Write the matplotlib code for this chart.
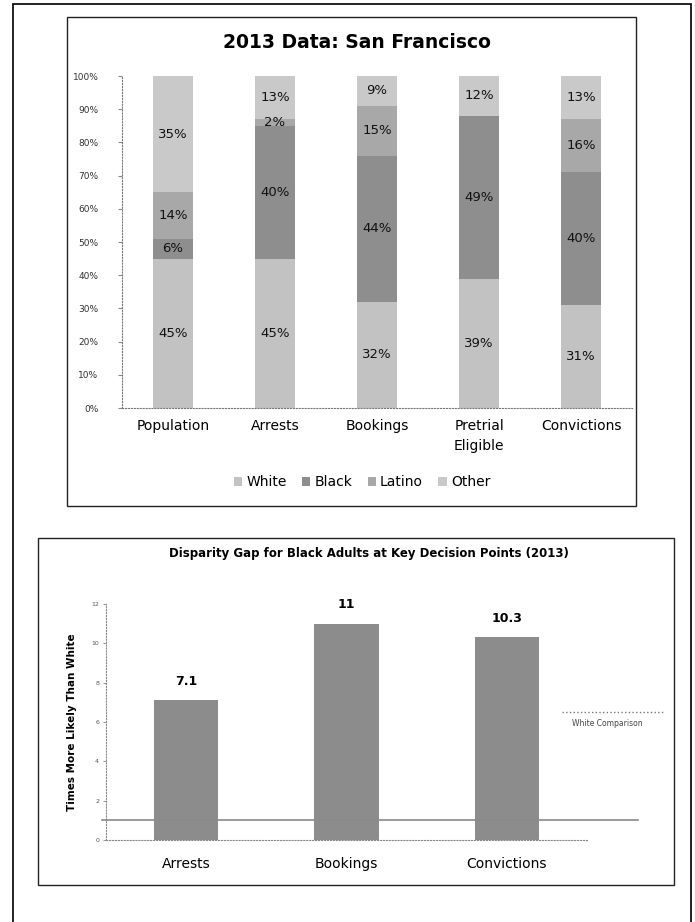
import numpy as np
import matplotlib
matplotlib.use("Agg")
import matplotlib.pyplot as plt
from matplotlib.patches import Rectangle
from matplotlib.lines import Line2D

# --- data ---
stages = ["Population", "Arrests", "Bookings", "Pretrial\nEligible", "Convictions"]
groups = ["White", "Black", "Latino", "Other"]
white = [45, 45, 32, 39, 31]
black = [6, 40, 44, 49, 40]
latino = [14, 2, 15, 0, 16]
other = [35, 13, 9, 12, 13]

gap_points = ["Arrests", "Bookings", "Convictions"]
gap_values = [7.1, 11, 10.3]
white_comparison = 1

W, H = 695, 922
group_colors = ["#c2c2c2", "#8e8e8e", "#a8a8a8", "#c9c9c9"]


def box(x0, y0, x1, y1):
    # pixel box (top-left origin) -> figure fraction rect
    return [x0 / W, 1 - y1 / H, (x1 - x0) / W, (y1 - y0) / H]


def frame(x0, y0, x1, y1, lw=1.0, color="#222222"):
    r = box(x0, y0, x1, y1)
    fig.add_artist(Rectangle((r[0], r[1]), r[2], r[3], transform=fig.transFigure,
                             fill=False, ec=color, lw=lw))


fig = plt.figure(figsize=(W / 100, H / 100), dpi=100)

# page and chart frames
frame(13, 4, 691, 940, lw=1.3, color="#111111")
frame(67, 17, 636, 506, lw=1.0)
frame(38, 538, 674, 885, lw=1.0)

# ---------------- top chart: stacked percentages ----------------
ax1 = fig.add_axes(box(122, 76, 632, 408))
x = np.arange(len(stages))
series = [white, black, latino, other]
bottom = np.zeros(len(stages))
handles = []
for name, vals, col in zip(groups, series, group_colors):
    vals = np.array(vals, dtype=float)
    b = ax1.bar(x, vals, 0.39, bottom=bottom, color=col, label=name)
    handles.append(b)
    for xi, v, bt in zip(x, vals, bottom):
        if v > 0:
            ax1.text(xi, bt + v / 2, f"{int(v)}%", ha="center", va="center",
                     fontsize=9.5, color="#111111")
    bottom += vals

ax1.set_xlim(-0.5, len(stages) - 0.5)
ax1.set_ylim(0, 100)
ax1.set_yticks(np.arange(0, 101, 10))
ax1.set_yticklabels([f"{v}%" for v in range(0, 101, 10)])
ax1.set_xticks(x)
ax1.set_xticklabels(stages, fontsize=10, linespacing=1.5, va="top")
ax1.tick_params(axis="y", labelsize=6.5, labelcolor="#333333", length=3,
                color="#888888", pad=14)
ax1.tick_params(axis="x", length=0, pad=8)
for s in ["top", "right"]:
    ax1.spines[s].set_visible(False)
for s in ["left", "bottom"]:
    ax1.spines[s].set_linestyle(":")
    ax1.spines[s].set_color("#777777")
    ax1.spines[s].set_linewidth(0.8)

fig.text(357 / W, 1 - 43 / H, "2013 Data: San Francisco", ha="center", va="center",
         fontsize=13.5, fontweight="bold")
fig.legend(handles=handles, labels=groups, loc="center",
           bbox_to_anchor=(362 / W, 1 - 482 / H), ncol=4, frameon=False,
           fontsize=10, handlelength=0.6, handleheight=0.6, handletextpad=0.3,
           columnspacing=1.1)

# ---------------- bottom chart: disparity gap ----------------
ax2 = fig.add_axes(box(106, 604, 587, 840))
xb = np.arange(len(gap_points))
ax2.bar(xb, gap_values, 0.4, color="#8c8c8c")
for xi, v in zip(xb, gap_values):
    ax2.annotate(f"{v:g}", (xi, v), xytext=(0, 9), textcoords="offset points",
                 ha="center", va="bottom", fontsize=9, fontweight="bold")
ax2.axhline(white_comparison, xmin=-0.008, xmax=1.106, clip_on=False,
            color="#8a8a8a", lw=1.2)
ax2.set_xlim(-0.5, len(gap_points) - 0.5)
ax2.set_ylim(0, 12)
ax2.set_yticks(np.arange(0, 13, 2))
ax2.set_xticks(xb)
ax2.set_xticklabels(gap_points, fontsize=10)
ax2.tick_params(axis="y", labelsize=4.5, labelcolor="#555555", length=2,
                color="#999999", pad=3)
ax2.tick_params(axis="x", length=0, pad=12)
for s in ["top", "right"]:
    ax2.spines[s].set_visible(False)
for s in ["left", "bottom"]:
    ax2.spines[s].set_linestyle(":")
    ax2.spines[s].set_color("#888888")
    ax2.spines[s].set_linewidth(0.8)
ax2.set_ylabel("Times More Likely Than White", fontsize=7.5, fontweight="bold",
               labelpad=10)

fig.text(369 / W, 1 - 554 / H,
         "Disparity Gap for Black Adults at Key Decision Points (2013)",
         ha="center", va="center", fontsize=8.5, fontweight="bold")

# white comparison key
fig.add_artist(Line2D([562 / W, 664 / W], [1 - 712 / H] * 2, transform=fig.transFigure,
                      ls=":", color="#777777", lw=1.0))
fig.text(607 / W, 1 - 723 / H, "White Comparison", ha="center", va="center",
         fontsize=5.5, color="#444444")

fig.savefig("out.png", dpi=100)
